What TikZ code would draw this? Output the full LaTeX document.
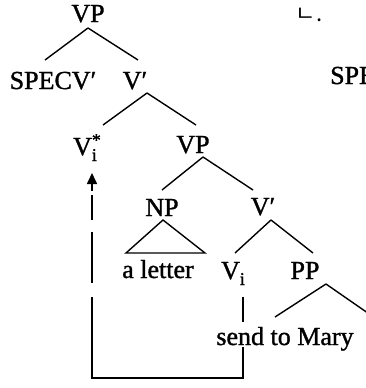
\documentclass[tikz,border=0pt]{standalone}
\usepackage{fontspec}
\setmainfont{Liberation Serif}[FakeBold=1.2]
\newfontfamily\krfont{Noto Sans CJK KR}
\usetikzlibrary{arrows.meta}
\tikzset{
  lbl/.style={inner sep=0pt, anchor=base, font=\fontsize{26}{30}\selectfont},
  edge/.style={line width=1.4pt},
  move/.style={line width=1.4pt, dash pattern=on 263pt off 14pt on 51pt off 12pt on 25pt off 200pt},
}
\begin{document}
\begin{tikzpicture}[x=1pt, y=-1pt]
\useasboundingbox (0,0) rectangle (366,388);
\clip (0,0) rectangle (366,388);
% labels
\node[lbl] (vp1) at (88,22) {VP};
\node[lbl] (spec) at (53,89) {SPECV′};
\node[lbl] (vb2) at (135,89) {V′};
\node[lbl] (vstar) at (87,155) {V\rlap{\raisebox{-6pt}{\fontsize{18}{20}\selectfont i}}\raisebox{9pt}{\fontsize{18}{20}\selectfont *}};
\node[lbl] (vp3) at (193,153) {VP};
\node[lbl] (np) at (162,216) {NP};
\node[lbl] (vb4) at (263,215) {V′};
\node[lbl] (alet) at (158,278) {a letter};
\node[lbl] (vi) at (233,279) {V\raisebox{-6pt}{\fontsize{18}{20}\selectfont i}};
\node[lbl] (pp) at (305,279) {PP};
\node[lbl] (send) at (285,345) {send to Mary};
\node[inner sep=0pt, anchor=base, font=\krfont\fontsize{22}{24}\selectfont] (mark) at (309,21) {ㄴ.};
\node[lbl, anchor=base west] (spe) at (330,84) {SPE};
% tree edges
\draw[edge] ([shift={(0,6)}]vp1.base) -- ([shift={(-8,-29)}]spec.base);
\draw[edge] ([shift={(0,6)}]vp1.base) -- ([shift={(3,-29)}]vb2.base);
\draw[edge] ([shift={(12,4)}]vb2.base) -- ([shift={(16,-30)}]vstar.base);
\draw[edge] ([shift={(12,4)}]vb2.base) -- ([shift={(3,-28)}]vp3.base);
\draw[edge] ([shift={(10,4)}]vp3.base) -- ([shift={(0,-26)}]np.base);
\draw[edge] ([shift={(10,4)}]vp3.base) -- ([shift={(-10,-25)}]vb4.base);
\draw[edge, line join=miter] ([shift={(1,4)}]np.base) -- ([shift={(-36,37)}]np.base) -- ([shift={(43,37)}]np.base) -- cycle;
\draw[edge] ([shift={(8,5)}]vb4.base) -- ([shift={(2,-26)}]vi.base);
\draw[edge] ([shift={(8,5)}]vb4.base) -- ([shift={(8,-26)}]pp.base);
\draw[edge] ([shift={(10,18)}]vi.base) -- ([shift={(-42,-23)}]send.base);
\draw[edge] ([shift={(21,5)}]pp.base) -- ([shift={(-10,-28)}]send.base);
\draw[edge] ([shift={(21,5)}]pp.base) -- ([shift={(90,-27)}]send.base);
% movement
\coordinate (mvstart) at ([shift={(-42,2)}]send.base);
\coordinate (mvend) at ([shift={(5,40)}]vstar.base);
\draw[move] (mvstart) |- ([shift={(5,223)}]vstar.base) -- (mvend);
\draw[line width=1.6pt, -{Triangle[length=11pt,width=10pt]}] ([shift={(5,36)}]vstar.base) -- ([shift={(5,18)}]vstar.base);
\end{tikzpicture}
\end{document}
